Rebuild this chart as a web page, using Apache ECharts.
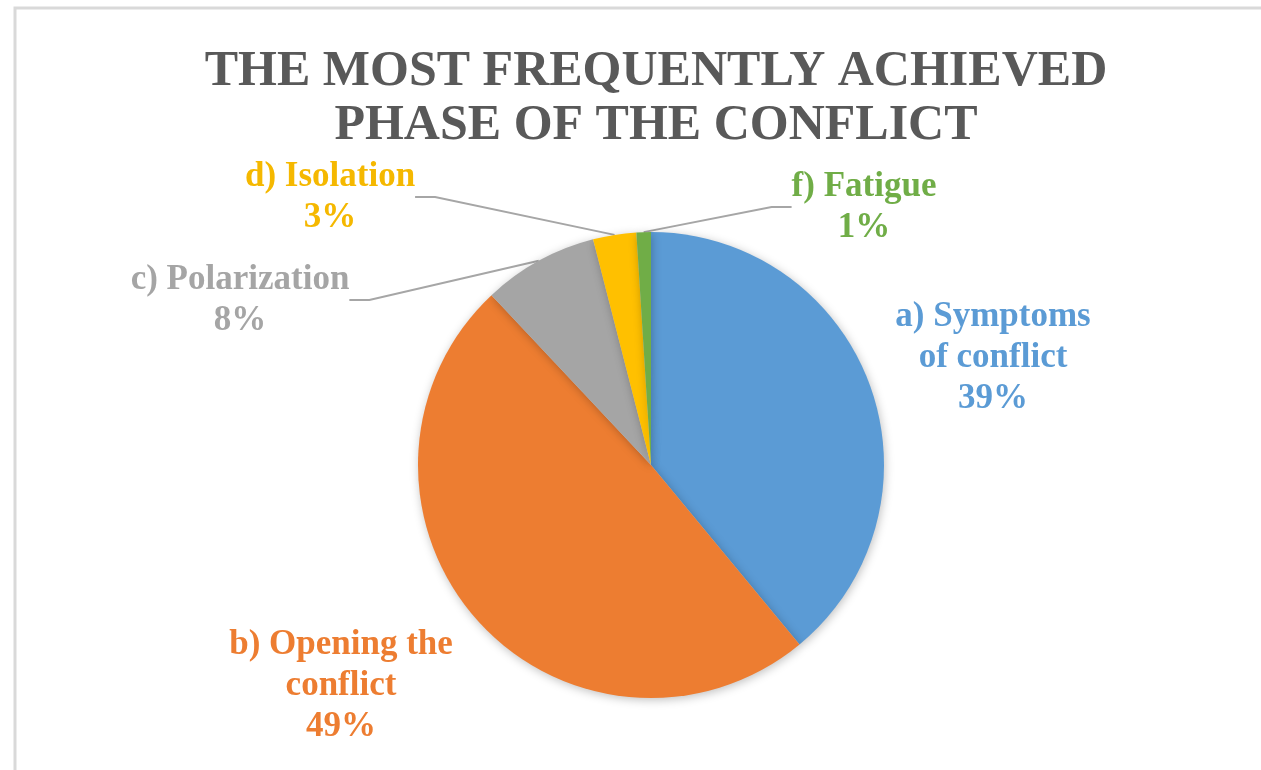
<!DOCTYPE html>
<html>
<head>
<meta charset="utf-8">
<script src="https://cdn.jsdelivr.net/npm/echarts@6/dist/echarts.min.js"></script>
<style>
    html, body { margin: 0; padding: 0; background: #fff; }
    #piechart { width: 1261px; height: 770px; }
</style>
</head>
<body>
<div id="piechart"></div>
<script>
    // phases (label text) and their shares in %
    let phases = ['a) Symptoms\nof conflict', 'b) Opening the\nconflict', 'c) Polarization', 'd) Isolation', 'f) Fatigue']
    let shares = [39, 49, 8, 3, 1]
    let colors = ['#5B9BD5', '#ED7D31', '#A5A5A5', '#FFC000', '#70AD47']
    let labelColors = ['#5B9BD5', '#ED7D31', '#A5A5A5', '#F5B800', '#70AD47']

    // where Excel placed each label (center of text block)
    let labelSpots = [[993, 358], [341, 686], [240, 300], [330, 197], [864, 207]]
    let hasLine = [false, false, true, true, true]

    let myChart = echarts.init(document.getElementById('piechart'))
    myChart.setOption({
        animation: false,
        title: {
            text: 'THE MOST FREQUENTLY ACHIEVED\nPHASE OF THE CONFLICT',
            left: 651,
            top: 40,
            textAlign: 'center',
            textStyle: {
                fontFamily: 'Liberation Serif',
                fontWeight: 'bold',
                fontSize: 50,
                lineHeight: 54,
                color: '#595959'
            }
        },
        graphic: [{
            type: 'rect',
            shape: { x: 15, y: 8, width: 1270, height: 800 },
            style: { fill: 'none', stroke: '#D9D9D9', lineWidth: 3 },
            silent: true
        }],
        series: [{
            type: 'pie',
            center: [651, 465],
            radius: 233,
            startAngle: 90,
            clockwise: true,
            itemStyle: {
                shadowBlur: 10,
                shadowColor: 'rgba(0,0,0,0.25)',
                shadowOffsetX: 1,
                shadowOffsetY: 2
            },
            label: {
                formatter: '{b}\n{c}%',
                fontFamily: 'Liberation Serif',
                fontWeight: 'bold',
                fontSize: 35,
                lineHeight: 41,
                align: 'center'
            },
            labelLine: {
                show: true,
                length: 20,
                length2: 20,
                lineStyle: { color: '#A6A6A6', width: 2 }
            },
            labelLayout: function (params) {
                let p = labelSpots[params.dataIndex]
                return { x: p[0], y: p[1], align: 'center', verticalAlign: 'middle' }
            },
            data: phases.map((name, i) => {
                return {
                    name: name,
                    value: shares[i],
                    itemStyle: { color: colors[i] },
                    label: { color: labelColors[i] },
                    labelLine: { show: hasLine[i] }
                }
            })
        }]
    })
</script>
</body>
</html>
